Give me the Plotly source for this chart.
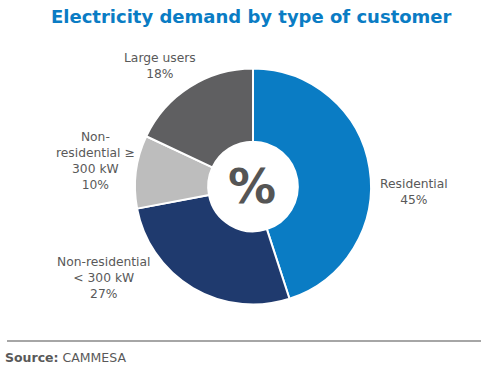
import plotly.graph_objects as go

categories = ["Residential", "Non-residential < 300 kW", "Non-residential ≥ 300 kW", "Large users"]
display_labels = ["Residential", "Non-residential<br>< 300 kW", "Non-<br>residential ≥<br>300 kW", "Large users"]
shares = [45, 27, 10, 18]
colors = ["#0a7cc4", "#1f3a6e", "#bdbdbd", "#5f5f61"]

# label block centres in pixels (layout only)
label_pos = [(414, 192), (103, 278), (95, 161), (160, 66)]

W, H = 481, 370

fig = go.Figure(go.Pie(
    labels=categories,
    values=shares,
    textinfo="none",
    marker=dict(colors=colors, line=dict(color="white", width=2)),
    hole=0.38,
    sort=False,
    direction="clockwise",
    rotation=0,
    showlegend=False,
    automargin=False,
    hoverinfo="label+percent",
    domain=dict(x=[135/W, 371/W], y=[1-305/H, 1-68/H]),
))

annotations = []
for lab, val, (px, py) in zip(display_labels, shares, label_pos):
    annotations.append(dict(text=f"{lab}<br>{val}%", x=px/W, y=1-py/H, xref="paper", yref="paper",
                            showarrow=False, align="center", xanchor="center", yanchor="middle",
                            font=dict(family="DejaVu Sans", size=12.3, color="#595959")))

annotations += [
    dict(text="<b>Electricity demand by type of customer</b>", x=251/W, y=1-17/H,
         xref="paper", yref="paper", showarrow=False,
         font=dict(family="DejaVu Sans", size=18, color="#0a7cc4"), xanchor="center", yanchor="middle"),
    dict(text="<b>%</b>", x=252/W, y=1-186/H, xref="paper", yref="paper", showarrow=False,
         font=dict(family="DejaVu Sans", size=48, color="#555555"), xanchor="center", yanchor="middle"),
    dict(text="<b>Source:</b> CAMMESA", x=3/W, y=1-357/H, xref="paper", yref="paper", showarrow=False,
         font=dict(family="DejaVu Sans", size=12.5, color="#595959"), xanchor="left", yanchor="middle"),
]

fig.update_layout(
    width=W, height=H,
    margin=dict(l=0, r=0, t=0, b=0),
    paper_bgcolor="white",
    plot_bgcolor="white",
    annotations=annotations,
    shapes=[dict(type="line", xref="paper", yref="paper", x0=7/W, x1=1, y0=1-341/H, y1=1-341/H,
                 line=dict(color="#a6a6a6", width=2))],
)

fig.write_html("out.html", config={"displayModeBar": False},
               post_script="document.body.style.margin='0';")
